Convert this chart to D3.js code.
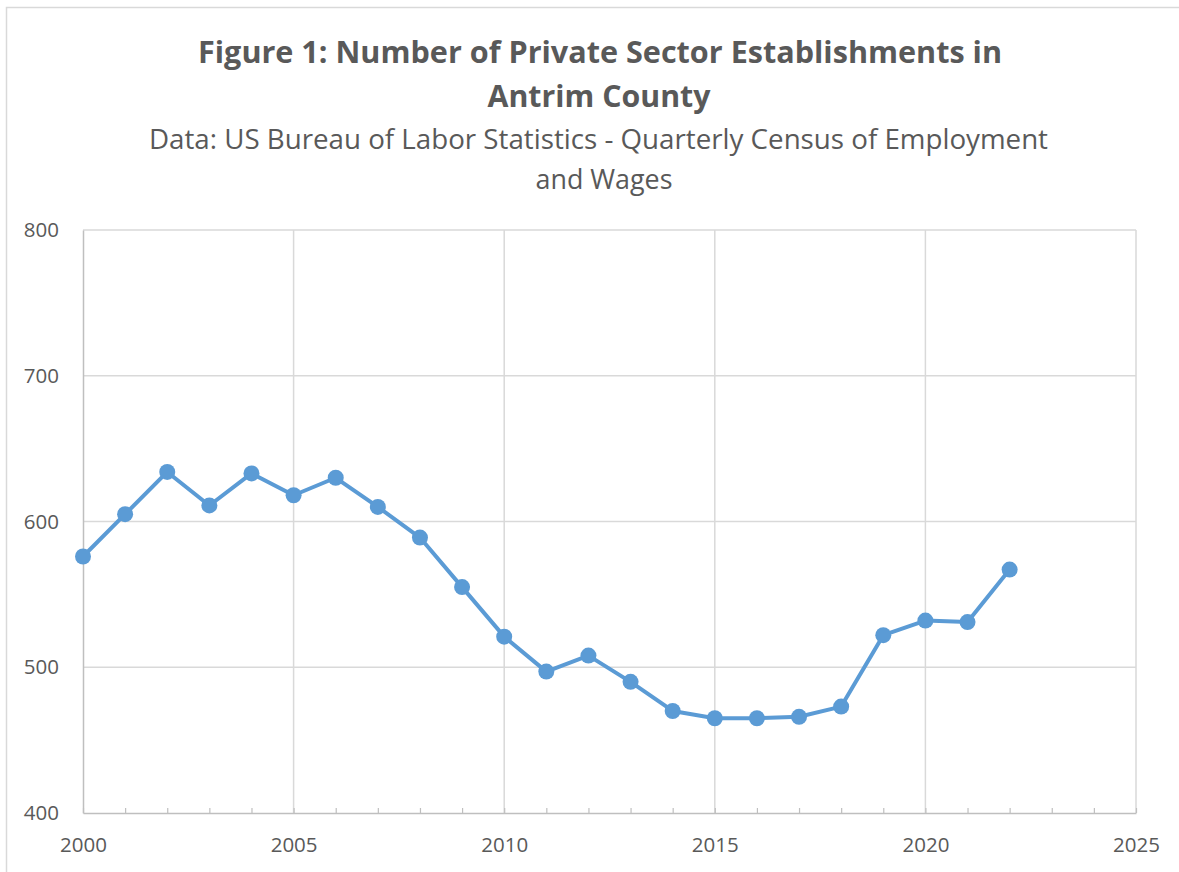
<!DOCTYPE html>
<html>
<head>
<meta charset="utf-8">
<script src="https://cdn.jsdelivr.net/npm/d3@7"></script>
<style>
  body { margin: 0; background: #fff; }
  #chart { width: 1179px; height: 872px; }
  text { font-family: "Open Sans", "Noto Sans", sans-serif; fill: #595959; }
</style>
</head>
<body>
<div id="chart"></div>
<script>
// data
var years = [2000, 2001, 2002, 2003, 2004, 2005, 2006, 2007, 2008, 2009, 2010, 2011,
             2012, 2013, 2014, 2015, 2016, 2017, 2018, 2019, 2020, 2021, 2022];
var establishments = [576, 605, 634, 611, 633, 618, 630, 610, 589, 555, 521, 497,
                      508, 490, 470, 465, 465, 466, 473, 522, 532, 531, 567];
var xTicks = [2000, 2005, 2010, 2015, 2020, 2025];
var yTicks = [400, 500, 600, 700, 800];
var titleLines = ["Figure 1: Number of Private Sector Establishments in", "Antrim County"];
var subtitleLines = ["Data: US Bureau of Labor Statistics - Quarterly Census of Employment", "and Wages"];

var canvasWidth = 1179;
var canvasHeight = 872;

var svg = d3.select("#chart").append("svg")
    .attr("width", canvasWidth)
    .attr("height", canvasHeight);

// chart area border
svg.append("rect")
    .attr("x", 6.5)
    .attr("y", 7.5)
    .attr("width", 1200)
    .attr("height", 900)
    .attr("fill", "#fff")
    .attr("stroke", "#d9d9d9")
    .attr("stroke-width", 1.5);

var xScale = d3.scaleLinear().domain([2000, 2025]).range([83, 1136]);
var yScale = d3.scaleLinear().domain([400, 800]).range([813, 230]);

// titles
var titleSpec = [
    { text: titleLines[0], x: 600, y: 63, size: 31, weight: "bold", len: 804 },
    { text: titleLines[1], x: 599, y: 107, size: 31, weight: "bold", len: 223 },
    { text: subtitleLines[0], x: 598.5, y: 149, size: 26.5, weight: "normal", len: 899 },
    { text: subtitleLines[1], x: 604, y: 189, size: 26.5, weight: "normal", len: 137 }
];
svg.selectAll(".title")
    .data(titleSpec)
    .enter().append("text")
    .attr("class", "title")
    .attr("x", function(d) { return d.x; })
    .attr("y", function(d) { return d.y; })
    .attr("text-anchor", "middle")
    .attr("font-size", function(d) { return d.size + "px"; })
    .attr("font-weight", function(d) { return d.weight; })
    .attr("textLength", function(d) { return d.len; })
    .attr("lengthAdjust", "spacingAndGlyphs")
    .text(function(d) { return d.text; });

// gridlines
var grid = svg.append("g");
grid.selectAll(".hgrid")
    .data(yTicks.slice(1))
    .enter().append("line")
    .attr("x1", xScale(2000))
    .attr("x2", xScale(2025))
    .attr("y1", function(d) { return yScale(d); })
    .attr("y2", function(d) { return yScale(d); })
    .attr("stroke", "#d9d9d9")
    .attr("stroke-width", 1.5);
grid.selectAll(".vgrid")
    .data(xTicks.slice(1))
    .enter().append("line")
    .attr("x1", function(d) { return xScale(d); })
    .attr("x2", function(d) { return xScale(d); })
    .attr("y1", yScale(400))
    .attr("y2", yScale(800))
    .attr("stroke", "#d9d9d9")
    .attr("stroke-width", 1.5);

// x axis: minor ticks each year pointing up, labels every 5 years
var xAxis = svg.append("g")
    .attr("transform", "translate(0," + yScale(400) + ")")
    .call(d3.axisBottom(xScale)
        .tickValues(d3.range(2000, 2026))
        .tickSizeInner(-5)
        .tickSizeOuter(0)
        .tickFormat(""));
xAxis.select(".domain").attr("stroke", "#bfbfbf").attr("stroke-width", 1.5);
xAxis.selectAll(".tick line").attr("stroke", "#bfbfbf").attr("stroke-width", 1.2);

svg.append("g")
    .attr("transform", "translate(0," + yScale(400) + ")")
    .call(d3.axisBottom(xScale).tickValues(xTicks).tickSize(0).tickPadding(39)
        .tickFormat(d3.format("d")))
    .call(function(g) { g.select(".domain").remove(); })
    .selectAll("text")
    .attr("font-size", "20.5px")
    .attr("fill", "#595959")
    .attr("dy", "0")
    .attr("font-family", "'Open Sans', sans-serif");

// y axis
var yAxis = svg.append("g")
    .attr("transform", "translate(" + xScale(2000) + ",0)")
    .call(d3.axisLeft(yScale).tickValues(yTicks).tickSize(0).tickPadding(24));
yAxis.select(".domain").attr("stroke", "#bfbfbf").attr("stroke-width", 1.5);
yAxis.selectAll("text")
    .attr("font-size", "20.5px")
    .attr("fill", "#595959")
    .attr("font-family", "'Open Sans', sans-serif");

// series
var data = years.map(function(y, i) { return { year: y, value: establishments[i] }; });

svg.append("path")
    .datum(data)
    .attr("fill", "none")
    .attr("stroke", "#5b9bd5")
    .attr("stroke-width", 4)
    .attr("stroke-linejoin", "round")
    .attr("d", d3.line()
        .x(function(d) { return xScale(d.year); })
        .y(function(d) { return yScale(d.value); }));

svg.selectAll(".dot")
    .data(data)
    .enter().append("circle")
    .attr("class", "dot")
    .attr("cx", function(d) { return xScale(d.year); })
    .attr("cy", function(d) { return yScale(d.value); })
    .attr("r", 8)
    .attr("fill", "#5b9bd5");
</script>
</body>
</html>
